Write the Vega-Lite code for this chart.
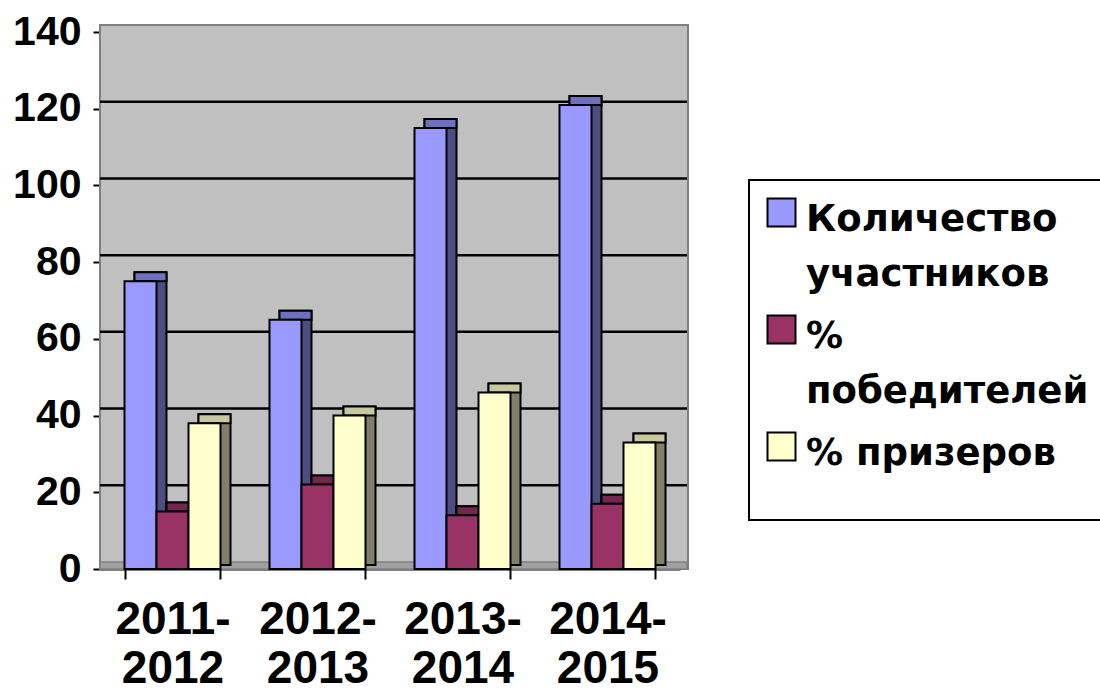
{
  "$schema": "https://vega.github.io/schema/vega-lite/v6.json",
  "width": 580,
  "height": 537,
  "autosize": "none",
  "padding": {"left": 100, "top": 32, "right": 420, "bottom": 121},
  "background": "white",
  "config": {
    "view": {"stroke": null},
    "font": "Liberation Sans",
    "axisX": {
      "domainColor": "black", "domainWidth": 2,
      "tickColor": "black", "tickWidth": 2, "tickSize": 10, "tickBand": "extent",
      "labelFont": "Liberation Sans", "labelFontSize": 46, "labelFontWeight": "bold", "labelColor": "black",
      "labelAngle": 0, "labelPadding": 18, "labelLineHeight": 49,
      "grid": false, "title": null
    },
    "axisY": {
      "domainColor": "black", "domainWidth": 2,
      "tickColor": "black", "tickWidth": 2, "tickSize": 7,
      "labelFont": "Liberation Sans", "labelFontSize": 41, "labelFontWeight": "bold", "labelColor": "black",
      "labelPadding": 12, "grid": false, "title": null
    }
  },
  "datasets": {
    "bars": [
      {"year": "2011-2012", "series": "Количество участников", "value": 75},
      {"year": "2011-2012", "series": "% победителей", "value": 15},
      {"year": "2011-2012", "series": "% призеров", "value": 38},
      {"year": "2012-2013", "series": "Количество участников", "value": 65},
      {"year": "2012-2013", "series": "% победителей", "value": 22},
      {"year": "2012-2013", "series": "% призеров", "value": 40},
      {"year": "2013-2014", "series": "Количество участников", "value": 115},
      {"year": "2013-2014", "series": "% победителей", "value": 14},
      {"year": "2013-2014", "series": "% призеров", "value": 46},
      {"year": "2014-2015", "series": "Количество участников", "value": 121},
      {"year": "2014-2015", "series": "% победителей", "value": 17},
      {"year": "2014-2015", "series": "% призеров", "value": 33}
    ],
    "wall": [{"part": "wall", "value": 0, "hi": 140}],
    "grid": [{"value": 20}, {"value": 40}, {"value": 60}, {"value": 80}, {"value": 100}, {"value": 120}]
  },
  "encoding": {
    "y": {
      "field": "value", "type": "quantitative",
      "scale": {"domain": [0, 140], "nice": false, "zero": true},
      "axis": {"values": [0, 20, 40, 60, 80, 100, 120, 140], "title": null}
    }
  },
  "resolve": {"scale": {"x": "independent", "xOffset": "independent"}},
  "layer": [
    {
      "data": {"name": "wall"},
      "mark": {"type": "rect", "fill": "#c0c0c0", "stroke": "#808080", "strokeWidth": 2, "y2Offset": -7},
      "encoding": {
        "x": {"field": "part", "type": "nominal", "scale": {"range": [0, 588], "paddingInner": 0, "paddingOuter": 0}, "axis": null},
        "y2": {"field": "hi"}
      }
    },
    {
      "data": {"name": "wall"},
      "mark": {"type": "rect", "fill": "#a0a0a0", "stroke": "#808080", "strokeWidth": 1.5, "y2Offset": -7},
      "encoding": {
        "x": {"field": "part", "type": "nominal", "scale": {"range": [0, 587], "paddingInner": 0, "paddingOuter": 0}, "axis": null},
        "y2": {"field": "value"}
      }
    },
    {
      "data": {"name": "grid"},
      "mark": {"type": "rule", "color": "black", "strokeWidth": 2.5, "xOffset": 7, "x2Offset": 7, "yOffset": -7},
      "encoding": {}
    },
    {
      "data": {"name": "bars"},
      "mark": {"type": "bar", "yOffset": -9, "y2Offset": -4, "stroke": "black", "strokeWidth": 2},
      "encoding": {
        "x": {"field": "year", "type": "nominal", "scale": {"paddingInner": 0.338, "paddingOuter": 0.169, "range": [10, 590]}, "axis": null},
        "xOffset": {"field": "series", "type": "nominal", "sort": ["Количество участников", "% победителей", "% призеров"], "scale": {"paddingInner": 0, "paddingOuter": 0}},
        "y2": {"datum": 0},
        "fill": {
          "condition": [
            {"test": "datum.series === 'Количество участников'", "value": "#4d4d80"},
            {"test": "datum.series === '% победителей'", "value": "#4d1a33"}
          ],
          "value": "#80806a"
        }
      }
    },
    {
      "data": {"name": "bars"},
      "mark": {"type": "bar", "yOffset": -9, "stroke": "black", "strokeWidth": 2},
      "encoding": {
        "x": {"field": "year", "type": "nominal", "scale": {"paddingInner": 0.338, "paddingOuter": 0.169, "range": [10, 590]}, "axis": null},
        "xOffset": {"field": "series", "type": "nominal", "sort": ["Количество участников", "% победителей", "% призеров"], "scale": {"paddingInner": 0, "paddingOuter": 0}},
        "y2": {"field": "value"},
        "fill": {
          "condition": [
            {"test": "datum.series === 'Количество участников'", "value": "#7070c0"},
            {"test": "datum.series === '% победителей'", "value": "#732650"}
          ],
          "value": "#c8c8a0"
        }
      }
    },
    {
      "data": {"name": "bars"},
      "mark": {"type": "bar", "stroke": "black", "strokeWidth": 2, "opacity": 1},
      "encoding": {
        "x": {"field": "year", "type": "nominal", "scale": {"paddingInner": 0.338, "paddingOuter": 0.169},
              "axis": {"labelExpr": "[slice(datum.label, 0, 5), slice(datum.label, 5)]", "title": null}},
        "xOffset": {"field": "series", "type": "nominal", "sort": ["Количество участников", "% победителей", "% призеров"], "scale": {"paddingInner": 0, "paddingOuter": 0}},
        "fill": {
          "field": "series", "type": "nominal",
          "sort": ["Количество участников", "% победителей", "% призеров"],
          "scale": {"domain": ["Количество участников", "% победителей", "% призеров"], "range": ["#9999ff", "#993366", "#ffffcc"]},
          "legend": {
            "title": " ", "titleOrient": "bottom", "titleFontSize": 31, "titlePadding": 4,
            "orient": "none", "legendX": 649, "legendY": 148,
            "padding": 14, "fillColor": "white", "strokeColor": "black",
            "symbolType": "square", "symbolSize": 784, "symbolStrokeColor": "black", "symbolStrokeWidth": 2, "symbolOpacity": 1,
            "labelFont": "DejaVu Sans", "labelFontSize": 37, "labelFontWeight": "bold", "labelColor": "black",
            "labelLimit": 600, "labelOffset": 6, "rowPadding": 18, "labelBaseline": "top",
            "labelExpr": "datum.label == 'Количество участников' ? ['Количество', 'участников'] : datum.label == '% победителей' ? ['%', 'победителей'] : datum.label",
            "encoding": {"labels": {"lineHeight": {"value": 55}, "dy": {"value": -11}}, "legend": {"strokeWidth": {"value": 2}}}
          }
        }
      }
    }
  ]
}
